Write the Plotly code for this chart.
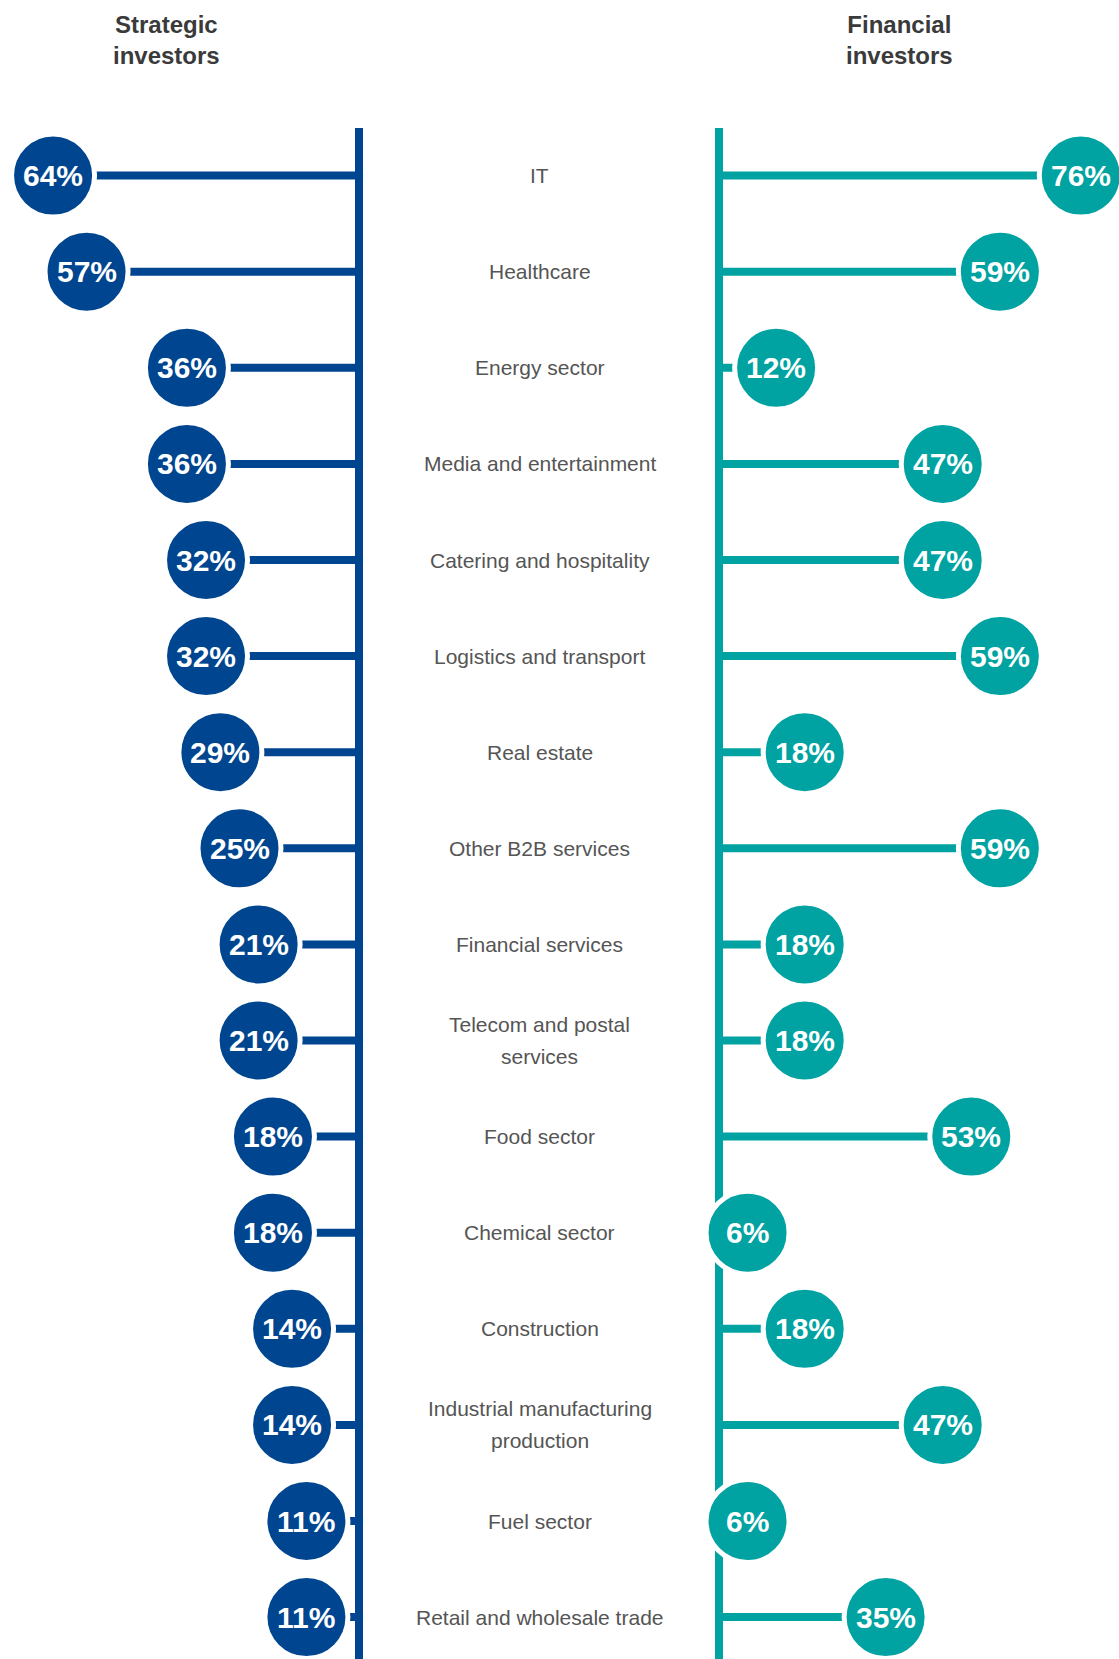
import plotly.graph_objects as go

categories = [
    "IT", "Healthcare", "Energy sector", "Media and entertainment",
    "Catering and hospitality", "Logistics and transport", "Real estate",
    "Other B2B services", "Financial services", "Telecom and postal<br>services",
    "Food sector", "Chemical sector", "Construction",
    "Industrial manufacturing<br>production", "Fuel sector",
    "Retail and wholesale trade",
]
strategic = [64, 57, 36, 36, 32, 32, 29, 25, 21, 21, 18, 18, 14, 14, 11, 11]
financial = [76, 59, 12, 47, 47, 59, 18, 59, 18, 18, 53, 6, 18, 47, 6, 35]
headers = ["Strategic<br>investors", "Financial<br>investors"]

BLUE = "#00458F"
TEAL = "#00A3A1"
W, H = 1119, 1659
PX_L = 4.78   # px per percentage point, left
PX_R = 4.76   # px per percentage point, right
AX_L, AX_R, MID = 359, 719, 539
TOP = 128
ROW = 96.1
FIRST = 175.6

idx = list(range(len(categories)))


def seg(vals):
    xs, ys = [], []
    for i, v in zip(idx, vals):
        xs += [0, v, None]
        ys += [i, i, None]
    return xs, ys


fig = go.Figure()
annotations = []
for vals, color, xa in [(strategic, BLUE, "x"), (financial, TEAL, "x2")]:
    xs, ys = seg(vals)
    fig.add_trace(go.Scatter(
        x=xs, y=ys, mode="lines", xaxis=xa, yaxis="y",
        line=dict(color=color, width=8), hoverinfo="skip", showlegend=False,
    ))
    fig.add_trace(go.Scatter(
        x=vals, y=idx, mode="markers", xaxis=xa, yaxis="y",
        marker=dict(size=83, color=color, line=dict(color="white", width=5)),
        cliponaxis=False, showlegend=False,
        customdata=[c.replace("<br>", " ") for c in categories],
        hovertemplate="%{customdata}: %{x}%<extra></extra>",
    ))
    for i, v in zip(idx, vals):
        annotations.append(dict(
            x=v, xref=xa, y=i, yref="y", text=f"{v}%", showarrow=False,
            xanchor="center", yanchor="middle", yshift=0,
            font=dict(color="white", size=30, family="Liberation Sans, Arial", weight="bold"),
        ))

dom_h = H - TOP
top_units = (FIRST - TOP) / ROW
y_range = [dom_h / ROW - top_units, -top_units]

fig.update_layout(
    width=W, height=H, margin=dict(l=0, r=0, t=0, b=0),
    paper_bgcolor="white", plot_bgcolor="white",
    xaxis=dict(domain=[0, MID / W], range=[AX_L / PX_L, -(MID - AX_L) / PX_L],
               showgrid=False, showticklabels=False, zeroline=True,
               zerolinecolor=BLUE, zerolinewidth=8, fixedrange=True),
    xaxis2=dict(domain=[MID / W, 1], range=[-(AX_R - MID) / PX_R, (W - AX_R) / PX_R],
                showgrid=False, showticklabels=False, zeroline=True,
                zerolinecolor=TEAL, zerolinewidth=8, anchor="y", fixedrange=True),
    yaxis=dict(domain=[0, 1 - TOP / H], range=y_range, showgrid=False,
               showticklabels=False, zeroline=False, fixedrange=True),
)

for i, cat in enumerate(categories):
    lines = cat.split("<br>")
    n = len(lines)
    for k, ln in enumerate(lines):
        annotations.append(dict(
            x=(MID + 0.5) / W, xref="paper", y=i, yref="y",
            text=ln, showarrow=False, xanchor="center", yanchor="middle",
            yshift=(n - 1) * 16 - k * 32,
            font=dict(size=21, color="#555555", family="Liberation Sans, Arial"),
        ))
for hx, txt in zip([166, 899], headers):
    annotations.append(dict(
        x=hx / W, xref="paper", y=1 - 40 / H, yref="paper", text=txt,
        showarrow=False, xanchor="center", yanchor="middle",
        font=dict(size=24, color="#3a3a3a", family="Liberation Sans, Arial", weight="bold"),
    ))
fig.update_layout(annotations=annotations)

fig.write_html("out.html", config={"displayModeBar": False},
               post_script="document.body.style.margin='0';")
